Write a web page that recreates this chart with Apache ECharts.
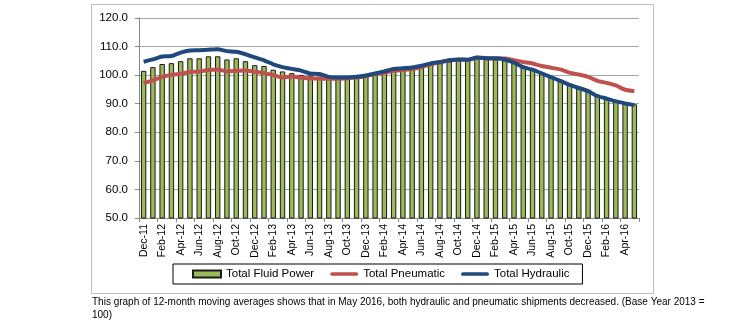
<!DOCTYPE html>
<html>
<head>
<meta charset="utf-8">
<script src="https://cdn.jsdelivr.net/npm/echarts@6/dist/echarts.min.js"></script>
<style>
html,body{margin:0;padding:0;background:#fff;}
#c{width:740px;height:330px;}
</style>
</head>
<body>
<div id="c"></div>
<script>
var categories = ['Dec-11','Jan-12','Feb-12','Mar-12','Apr-12','May-12','Jun-12','Jul-12','Aug-12','Sep-12','Oct-12','Nov-12',
  'Dec-12','Jan-13','Feb-13','Mar-13','Apr-13','May-13','Jun-13','Jul-13','Aug-13','Sep-13','Oct-13','Nov-13',
  'Dec-13','Jan-14','Feb-14','Mar-14','Apr-14','May-14','Jun-14','Jul-14','Aug-14','Sep-14','Oct-14','Nov-14',
  'Dec-14','Jan-15','Feb-15','Mar-15','Apr-15','May-15','Jun-15','Jul-15','Aug-15','Sep-15','Oct-15','Nov-15',
  'Dec-15','Jan-16','Feb-16','Mar-16','Apr-16','May-16'];

var fluidPower = [101.5,102.8,103.9,104.2,104.9,105.9,105.9,106.6,106.6,105.5,105.9,104.9,
  103.5,103.2,101.9,101.3,100.7,100.1,99.8,99.5,99.3,99.3,99.5,99.8,
  100.2,100.4,100.9,101.6,101.9,102.3,102.9,103.7,104.2,104.8,105.1,105.0,
  105.8,105.6,105.5,105.2,104.3,102.9,101.9,100.7,99.6,98.4,97.0,96.0,
  94.9,93.2,92.2,91.2,90.4,89.8];

var pneumatic = [97.3,98.2,99.4,100.1,100.5,101.1,101.3,101.8,102.0,101.3,101.5,101.6,
  101.2,100.7,100.0,99.2,99.5,99.1,98.8,98.8,98.7,98.7,98.9,99.2,
  99.6,100.4,100.8,101.5,101.8,102.1,102.8,103.8,104.5,105.2,105.4,105.3,
  106.1,105.9,105.8,105.8,105.2,104.6,104.1,103.2,102.6,102.0,100.9,100.2,
  99.4,98.0,97.3,96.4,94.9,94.4];

var hydraulic = [104.7,105.5,106.5,106.7,107.9,108.6,108.7,108.9,109.1,108.4,108.2,107.3,
  106.2,105.2,103.8,102.8,102.2,101.6,100.6,100.4,99.4,99.2,99.2,99.4,
  99.9,100.6,101.3,102.2,102.4,102.7,103.3,104.1,104.6,105.2,105.5,105.4,
  106.2,105.9,105.9,105.5,104.4,102.8,101.9,100.6,99.3,98.0,96.6,95.5,
  94.4,92.7,91.8,90.8,90.1,89.5];

var yTicks = [50,60,70,80,90,100,110,120];
var caption1 = 'This graph of 12-month moving averages shows that in May 2016, both hydraulic and pneumatic shipments decreased. (Base Year 2013 =';
var caption2 = '100)';

var chart = echarts.init(document.getElementById('c'), null, {renderer:'canvas'});
var font = 'Liberation Sans';
var lineIcon = 'path://M2,0 L28,0 A2,2 0 0 1 28,4 L2,4 A2,2 0 0 1 2,0 Z';
chart.setOption({
  animation: false,
  backgroundColor: '#fff',
  textStyle: {fontFamily: font},
  grid: {left: 139, right: 101, top: 18, bottom: 112, containLabel: false},
  xAxis: {
    type: 'category',
    data: categories,
    boundaryGap: true,
    axisLine: {lineStyle: {color: '#868686', width: 1}},
    axisTick: {show: true, interval: 1, length: 4, lineStyle: {color: '#868686'}},
    axisLabel: {interval: 1, rotate: 90, fontSize: 10.5, color: '#000', fontFamily: font, margin: 6}
  },
  yAxis: {
    type: 'value',
    min: yTicks[0], max: yTicks[yTicks.length-1], interval: 10,
    axisLine: {show: true, lineStyle: {color: '#868686', width: 1}},
    axisTick: {show: true, length: 4, lineStyle: {color: '#868686'}},
    axisLabel: {formatter: function(v){return v.toFixed(1);}, fontSize: 11.5, color: '#000', fontFamily: font, margin: 11},
    splitLine: {lineStyle: {color: '#a6a6a6', width: 1}}
  },
  legend: {
    left: 173, top: 264,
    padding: [4, 13, 4, 19],
    borderColor: '#000', borderWidth: 1,
    itemGap: 16, itemWidth: 28, itemHeight: 7,
    symbolKeepAspect: true,
    textStyle: {fontSize: 11.5, color: '#000', fontFamily: font},
    data: [
      {name: 'Total Fluid Power', icon: 'rect'},
      {name: 'Total Pneumatic', icon: lineIcon},
      {name: 'Total Hydraulic', icon: lineIcon}
    ]
  },
  series: [
    {
      name: 'Total Fluid Power', type: 'bar', data: fluidPower,
      barCategoryGap: '42%',
      itemStyle: {color: '#9bbb59', borderColor: '#1a1a1a', borderWidth: 1}
    },
    {
      name: 'Total Pneumatic', type: 'line', data: pneumatic,
      symbol: 'none', smooth: 0.2,
      lineStyle: {color: '#c0504d', width: 4},
      itemStyle: {color: '#c0504d', borderWidth: 0}
    },
    {
      name: 'Total Hydraulic', type: 'line', data: hydraulic,
      symbol: 'none', smooth: 0.2,
      lineStyle: {color: '#1f497d', width: 4},
      itemStyle: {color: '#1f497d', borderWidth: 0}
    }
  ],
  graphic: [
    {type: 'rect', silent: true, z: -1, shape: {x: 91.5, y: 4.5, width: 562, height: 289},
     style: {fill: 'none', stroke: '#bfbfbf', lineWidth: 1}},
    {type: 'text', left: 92, top: 297, style: {text: caption1, font: '10px "Liberation Sans"', fill: '#000'}},
    {type: 'text', left: 92, top: 310, style: {text: caption2, font: '10px "Liberation Sans"', fill: '#000'}}
  ]
});
</script>
</body>
</html>
